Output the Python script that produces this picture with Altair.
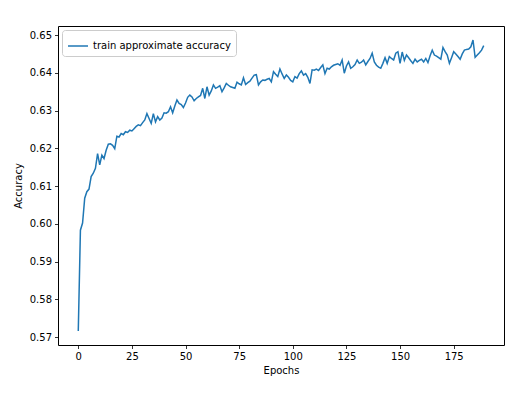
import altair as alt
import pandas as pd

epochs = list(range(190))
accuracy = [
    0.5716, 0.5983, 0.6002, 0.6068, 0.6085, 0.6092, 0.6125, 0.6134, 0.6147, 0.6186,
    0.6156, 0.6182, 0.6173, 0.6195, 0.6211, 0.6212, 0.6208, 0.6199, 0.6232, 0.6230,
    0.6239, 0.6236, 0.6244, 0.6242, 0.6248, 0.6246, 0.6252, 0.6258, 0.6262, 0.6260,
    0.6268, 0.6275, 0.6292, 0.6279, 0.6266, 0.6292, 0.6270, 0.6284, 0.6275, 0.6280,
    0.6294, 0.6293, 0.6297, 0.6310, 0.6294, 0.6312, 0.6328, 0.6319, 0.6316, 0.6308,
    0.6320, 0.6335, 0.6341, 0.6336, 0.6326, 0.6332, 0.6336, 0.6340, 0.6359, 0.6332,
    0.6363, 0.6341, 0.6352, 0.6368, 0.6359, 0.6362, 0.6366, 0.6350, 0.6360, 0.6372,
    0.6367, 0.6363, 0.6361, 0.6359, 0.6375, 0.6371, 0.6368, 0.6387, 0.6369, 0.6374,
    0.6378, 0.6386, 0.6394, 0.6395, 0.6368, 0.6376, 0.6381, 0.6380, 0.6383, 0.6385,
    0.6376, 0.6403, 0.6396, 0.6390, 0.6410, 0.6397, 0.6385, 0.6394, 0.6388, 0.6380,
    0.6376, 0.6390, 0.6386, 0.6398, 0.6405, 0.6394, 0.6398, 0.6388, 0.6372, 0.6408,
    0.6407, 0.6410, 0.6406, 0.6414, 0.6421, 0.6398, 0.6412, 0.6410, 0.6416, 0.6420,
    0.6422, 0.6424, 0.6420, 0.6434, 0.6399, 0.6418, 0.6429, 0.6412, 0.6416, 0.6422,
    0.6434, 0.6425, 0.6428, 0.6434, 0.6421, 0.6430, 0.6438, 0.6452, 0.6429, 0.6420,
    0.6415, 0.6412, 0.6425, 0.6440, 0.6425, 0.6443, 0.6438, 0.6434, 0.6452, 0.6456,
    0.6425, 0.6455, 0.6433, 0.6447, 0.6440, 0.6432, 0.6425, 0.6436, 0.6429, 0.6433,
    0.6436, 0.6429, 0.6438, 0.6427, 0.6445, 0.6460, 0.6447, 0.6444, 0.6440, 0.6436,
    0.6467, 0.6456, 0.6447, 0.6425, 0.6440, 0.6456, 0.6450, 0.6443, 0.6436, 0.6450,
    0.6460, 0.6462, 0.6463, 0.6469, 0.6487, 0.6441, 0.6447, 0.6453, 0.6460, 0.6472,
]
series_name = "train approximate accuracy"
x_ticks = [0, 25, 50, 75, 100, 125, 150, 175]
y_ticks = [0.57, 0.58, 0.59, 0.60, 0.61, 0.62, 0.63, 0.64, 0.65]

df = pd.DataFrame({"epoch": epochs, "acc": accuracy, "series": series_name})

font = "DejaVu Sans"

chart = alt.Chart(df).mark_line(strokeWidth=1.5).encode(
    x=alt.X("epoch:Q", title="Epochs",
            scale=alt.Scale(domain=[-9.45, 198.45], nice=False, zero=False),
            axis=alt.Axis(values=x_ticks, format="d", grid=False)),
    y=alt.Y("acc:Q", title="Accuracy",
            scale=alt.Scale(domain=[0.5679, 0.6524], nice=False, zero=False),
            axis=alt.Axis(values=y_ticks, format=".2f", grid=False)),
    color=alt.Color("series:N", scale=alt.Scale(range=["#1f77b4"]),
                    legend=alt.Legend(title=None, orient="top-left", offset=4,
                                      symbolType="stroke", symbolSize=400,
                                      symbolStrokeWidth=1.5,
                                      fillColor="white", strokeColor="#cccccc",
                                      cornerRadius=3, padding=5,
                                      labelFont=font, labelFontSize=10,
                                      labelColor="black")),
).properties(
    width=446, height=319,
    autosize=alt.AutoSizeParams(type="none"),
    padding={"left": 50, "top": 18, "right": 11, "bottom": 41},
).configure_view(
    stroke="black", strokeWidth=1
).configure_axis(
    domain=False, tickColor="black", tickSize=3.5, tickWidth=0.8,
    labelFont=font, labelFontSize=10, labelColor="black", labelPadding=3,
    titleFont=font, titleFontSize=10, titleFontWeight="normal", titleColor="black",
).configure_axisY(titlePadding=6).configure_axisX(titlePadding=4)

chart.save("out.html", embed_options={"renderer": "svg", "actions": False})
